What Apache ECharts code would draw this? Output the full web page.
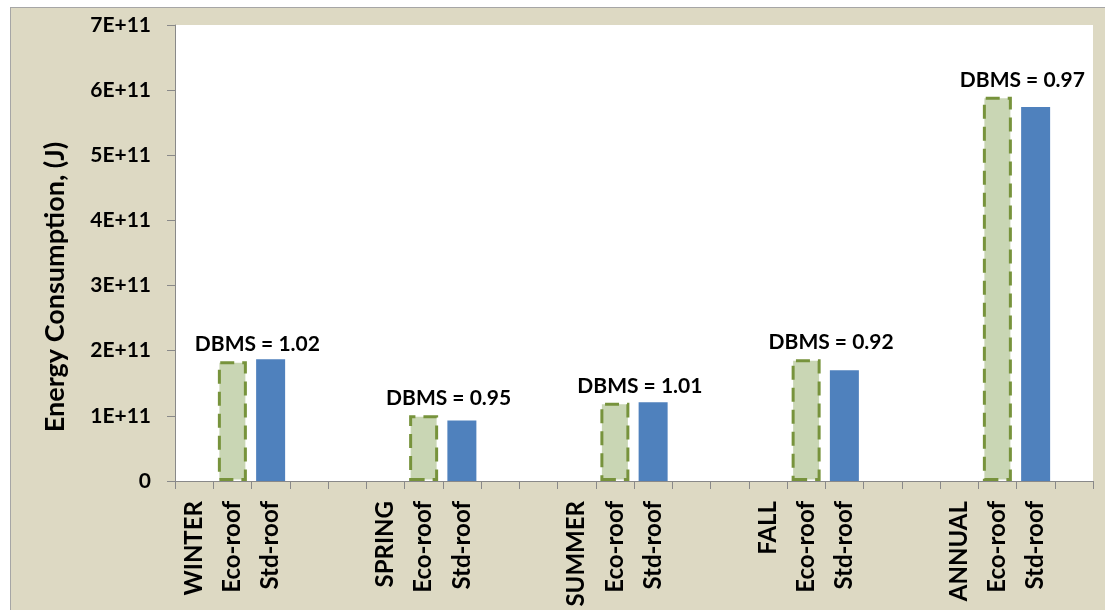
<!DOCTYPE html>
<html lang="en">
<head>
    <meta charset="UTF-8">
    <title>Energy Consumption</title>
    <script src="https://cdn.jsdelivr.net/npm/echarts@6/dist/echarts.min.js"></script>
    <style>
        body {
            margin: 0;
            background: #fff;
        }

        #chart {
            position: absolute;
            left: 10px;
            top: 7px;
            width: 1094px;
            height: 602px;
            border-left: 1px solid #a6a6a6;
            border-top: 1px solid #a6a6a6;
        }
    </style>
</head>
<body>
<div id="chart"></div>
<script>
    const categories = [
        'WINTER', 'Eco-roof', 'Std-roof', '', '',
        'SPRING', 'Eco-roof', 'Std-roof', '', '',
        'SUMMER', 'Eco-roof', 'Std-roof', '', '',
        'FALL', 'Eco-roof', 'Std-roof', '', '',
        'ANNUAL', 'Eco-roof', 'Std-roof', ''
    ];
    const ecoRoof = [
        null, 1.84e11, null, null, null,
        null, 1.01e11, null, null, null,
        null, 1.20e11, null, null, null,
        null, 1.87e11, null, null, null,
        null, 5.90e11, null, null
    ];
    const stdRoof = [
        null, null, 1.87e11, null, null,
        null, null, 0.93e11, null, null,
        null, null, 1.21e11, null, null,
        null, null, 1.70e11, null, null,
        null, null, 5.74e11, null
    ];
    const dbms = [
        '', 'DBMS = 1.02', '', '', '',
        '', 'DBMS = 0.95', '', '', '',
        '', 'DBMS = 1.01', '', '', '',
        '', 'DBMS = 0.92', '', '', '',
        '', 'DBMS = 0.97', '', ''
    ];

    const font = 'Lato, "DejaVu Sans", sans-serif';
    const chart = echarts.init(document.getElementById('chart'));
    chart.setOption({
        backgroundColor: '#ddd9c3',
        animation: false,
        grid: {
            left: 164,
            top: 17,
            width: 918,
            height: 456,
            show: true,
            backgroundColor: '#fff',
            borderWidth: 0,
            containLabel: false,
            outerBoundsMode: 'none'
        },
        xAxis: {
            type: 'category',
            data: categories,
            axisLine: {lineStyle: {color: '#898989', width: 1}},
            axisTick: {show: true, length: 8, interval: 0, lineStyle: {color: '#898989'}},
            axisLabel: {
                interval: 0,
                rotate: 90,
                margin: 20,
                color: '#000',
                fontFamily: font,
                fontWeight: 'bold',
                fontSize: 24
            }
        },
        yAxis: {
            type: 'value',
            min: 0,
            max: 7e11,
            interval: 1e11,
            name: 'Energy Consumption, (J)',
            nameLocation: 'middle',
            nameGap: 106,
            nameTextStyle: {
                color: '#000',
                fontFamily: font,
                fontWeight: 'bold',
                fontSize: 27,
                padding: [0, 68, 0, 0]
            },
            splitLine: {show: false},
            axisLine: {show: true, lineStyle: {color: '#898989', width: 1}},
            axisTick: {show: true, length: 8, lineStyle: {color: '#898989'}},
            axisLabel: {
                margin: 24,
                color: '#000',
                fontFamily: font,
                fontWeight: 'bold',
                fontSize: 21,
                formatter: v => v === 0 ? '0' : (v / 1e11) + 'E+11'
            }
        },
        series: [
            {
                name: 'Eco-roof',
                type: 'bar',
                stack: 'roof',
                barWidth: 29,
                data: ecoRoof,
                itemStyle: {
                    color: '#c9d6b4',
                    borderColor: '#77933c',
                    borderWidth: 3,
                    borderType: [14, 8]
                },
                label: {
                    show: true,
                    position: 'top',
                    distance: 6,
                    offset: [25, 0],
                    color: '#000',
                    fontFamily: font,
                    fontWeight: 'bold',
                    fontSize: 21,
                    formatter: p => dbms[p.dataIndex]
                }
            },
            {
                name: 'Std-roof',
                type: 'bar',
                stack: 'roof',
                barWidth: 29,
                data: stdRoof,
                itemStyle: {color: '#4f81bd'}
            }
        ]
    });
</script>
</body>
</html>
